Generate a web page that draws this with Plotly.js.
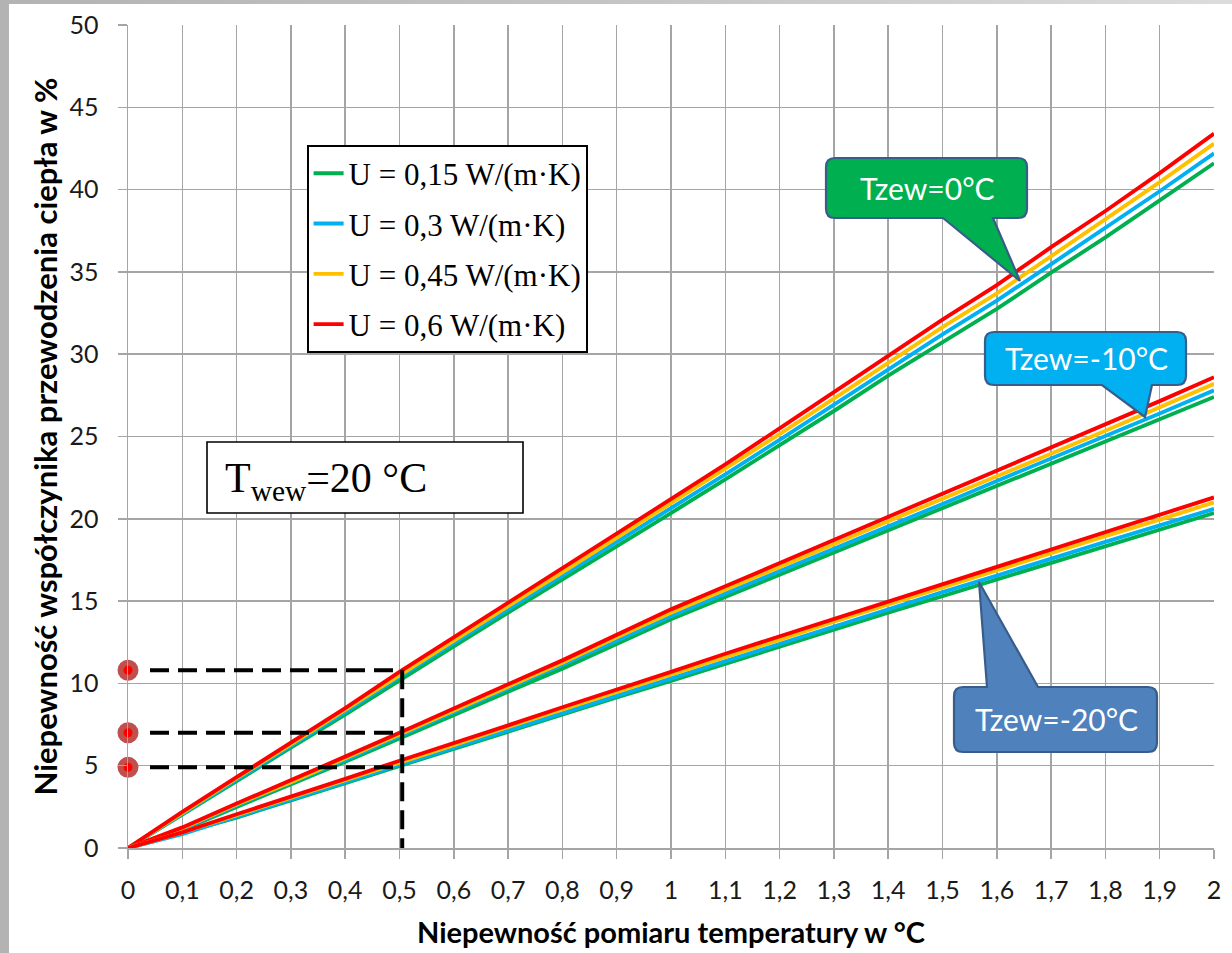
<!DOCTYPE html>
<html>
<head>
<meta charset="utf-8">
<script src="https://cdn.plot.ly/plotly-3.0.1.min.js"></script>
<style>
  html, body { margin: 0; padding: 0; width: 1232px; height: 953px; overflow: hidden;
    background: linear-gradient(90deg, #b3b3b3 0%, #c8c8c8 60%, #dcdcdc 100%); }
  #chart { position: absolute; left: 9px; top: 4px; width: 1223px; height: 949px; background: #ffffff; }
</style>
</head>
<body>
<div id="chart"></div>
<script>
// ---------------- DATA ----------------
const xVals = [0, 0.1, 0.2, 0.3, 0.4, 0.5, 0.6, 0.7, 0.8, 0.9, 1.0, 1.1, 1.2, 1.3, 1.4, 1.5, 1.6, 1.7, 1.8, 1.9, 2.0];

const uLabels = ['U = 0,15 W/(m·K)', 'U = 0,3 W/(m·K)', 'U = 0,45 W/(m·K)', 'U = 0,6 W/(m·K)'];
const uColors = ['#00b050', '#00b0f0', '#ffc000', '#ff0000'];

// Tzew = 0 °C
const t0_u015 = [0, 2.05, 4.05, 6.1, 8.1, 10.2, 12.25, 14.3, 16.3, 18.35, 20.35, 22.4, 24.45, 26.55, 28.7, 30.75, 32.75, 34.95, 37.1, 39.35, 41.6];
const t0_u030 = [0, 2.1, 4.15, 6.2, 8.25, 10.4, 12.45, 14.5, 16.55, 18.6, 20.6, 22.7, 24.8, 26.95, 29.1, 31.2, 33.25, 35.45, 37.65, 39.9, 42.2];
const t0_u045 = [0, 2.15, 4.25, 6.3, 8.4, 10.55, 12.6, 14.7, 16.75, 18.85, 20.9, 23.0, 25.15, 27.3, 29.5, 31.65, 33.7, 35.95, 38.15, 40.45, 42.8];
const t0_u060 = [0, 2.2, 4.3, 6.4, 8.5, 10.7, 12.8, 14.9, 17.0, 19.1, 21.2, 23.3, 25.5, 27.7, 29.9, 32.1, 34.2, 36.5, 38.7, 41.0, 43.4];

// Tzew = -10 °C
const t10_u015 = [0, 1.1, 2.5, 3.85, 5.25, 6.65, 8.1, 9.5, 10.9, 12.4, 13.9, 15.25, 16.6, 17.95, 19.3, 20.6, 21.95, 23.3, 24.65, 26.0, 27.4];
const t10_u030 = [0, 1.15, 2.6, 3.95, 5.35, 6.8, 8.25, 9.65, 11.1, 12.6, 14.1, 15.45, 16.8, 18.2, 19.55, 20.9, 22.3, 23.65, 25.0, 26.4, 27.8];
const t10_u045 = [0, 1.2, 2.65, 4.0, 5.45, 6.9, 8.4, 9.8, 11.25, 12.8, 14.3, 15.7, 17.05, 18.45, 19.85, 21.2, 22.6, 23.95, 25.35, 26.8, 28.2];
const t10_u060 = [0, 1.25, 2.7, 4.1, 5.55, 7.0, 8.5, 9.95, 11.4, 12.95, 14.5, 15.9, 17.3, 18.7, 20.1, 21.5, 22.9, 24.3, 25.7, 27.15, 28.6];

// Tzew = -20 °C
const t20_u015 = [0, 0.9, 1.85, 2.9, 3.95, 4.95, 6.0, 7.05, 8.1, 9.15, 10.15, 11.2, 12.2, 13.25, 14.3, 15.3, 16.3, 17.3, 18.35, 19.35, 20.35];
const t20_u030 = [0, 0.85, 1.9, 2.95, 4.0, 5.1, 6.1, 7.2, 8.25, 9.3, 10.35, 11.4, 12.45, 13.5, 14.55, 15.55, 16.55, 17.6, 18.6, 19.6, 20.6];
const t20_u045 = [0, 0.95, 2.0, 3.05, 4.1, 5.2, 6.25, 7.35, 8.4, 9.45, 10.55, 11.6, 12.65, 13.75, 14.8, 15.85, 16.85, 17.9, 18.95, 19.95, 21.0];
const t20_u060 = [0, 0.95, 2.05, 3.1, 4.2, 5.3, 6.35, 7.45, 8.55, 9.6, 10.7, 11.8, 12.85, 13.95, 15.0, 16.05, 17.1, 18.15, 19.2, 20.25, 21.3];

// reading example (dashed guides)
const markX = 0.505;
const markY = [10.8, 7.0, 4.9];

// ticks
const xTickVals = [0, 0.1, 0.2, 0.3, 0.4, 0.5, 0.6, 0.7, 0.8, 0.9, 1, 1.1, 1.2, 1.3, 1.4, 1.5, 1.6, 1.7, 1.8, 1.9, 2];
const xTickText = ['0', '0,1', '0,2', '0,3', '0,4', '0,5', '0,6', '0,7', '0,8', '0,9', '1', '1,1', '1,2', '1,3', '1,4', '1,5', '1,6', '1,7', '1,8', '1,9', '2'];
const yTickVals = [0, 5, 10, 15, 20, 25, 30, 35, 40, 45, 50];
const yTickText = ['0', '5', '10', '15', '20', '25', '30', '35', '40', '45', '50'];

const calloutTexts = ['Tzew=0°C', 'Tzew=-10°C', 'Tzew=-20°C'];
const noteText = 'T<sub>wew</sub>=20 °C';
const xTitle = 'Niepewność pomiaru temperatury w °C';
const yTitle = 'Niepewność współczynika przewodzenia ciepła w %';

// ---------------- TRACES ----------------
const families = [
  [t0_u015, t0_u030, t0_u045, t0_u060],
  [t10_u015, t10_u030, t10_u045, t10_u060],
  [t20_u015, t20_u030, t20_u045, t20_u060]
];

const traces = [];
families.forEach((fam, fi) => {
  fam.forEach((ys, ui) => {
    traces.push({
      type: 'scatter', mode: 'lines',
      x: xVals, y: ys,
      name: uLabels[ui],
      legendgroup: 'u' + ui,
      showlegend: fi === 0,
      line: { color: uColors[ui], width: 3.9 },
      hoverinfo: 'skip'
    });
  });
});

traces.push({
  type: 'scatter', mode: 'markers',
  x: markY.map(() => 0), y: markY,
  showlegend: false, cliponaxis: false, hoverinfo: 'skip',
  marker: { size: 15, color: '#ff0000', line: { color: '#c0504d', width: 6 } }
});

// ---------------- GEOMETRY HELPERS ----------------
const PL = 128, PR = 1214, PT = 25, PB = 848; // page pixel bounds of plot area
const X = px => (px - PL) / (PR - PL) * 2;
const Y = py => (PB - py) / (PB - PT) * 50;
const pt = (px, py) => X(px).toFixed(5) + ',' + Y(py).toFixed(4);

function calloutPath(x0, y0, x1, y1, r, edge, a, c, tx, ty) {
  let d = 'M' + pt(x0 + r, y0);
  if (edge === 'top') d += ' L' + pt(a, y0) + ' L' + pt(tx, ty) + ' L' + pt(c, y0);
  d += ' L' + pt(x1 - r, y0) + ' Q' + pt(x1, y0) + ' ' + pt(x1, y0 + r);
  d += ' L' + pt(x1, y1 - r) + ' Q' + pt(x1, y1) + ' ' + pt(x1 - r, y1);
  if (edge === 'bottom') d += ' L' + pt(c, y1) + ' L' + pt(tx, ty) + ' L' + pt(a, y1);
  d += ' L' + pt(x0 + r, y1) + ' Q' + pt(x0, y1) + ' ' + pt(x0, y1 - r);
  d += ' L' + pt(x0, y0 + r) + ' Q' + pt(x0, y0) + ' ' + pt(x0 + r, y0) + ' Z';
  return d;
}

const callouts = [
  { box: [826, 158, 1027, 218], edge: 'bottom', a: 943, c: 993, tip: [1020, 281], fill: '#00b050', tc: [927, 188] },
  { box: [985, 332, 1186, 385], edge: 'bottom', a: 1102, c: 1152, tip: [1145, 417], fill: '#00b0f0', tc: [1086, 358] },
  { box: [954, 687, 1157, 752], edge: 'top', a: 987, c: 1038, tip: [979, 582], fill: '#4f81bd', tc: [1056, 719] }
];

const shapes = [];
const annotations = [];

// dashed guide lines
markY.forEach(v => {
  shapes.push({ type: 'line', xref: 'x', yref: 'y', layer: 'above',
    x0: X(150), x1: markX, y0: v, y1: v,
    line: { color: '#000000', width: 4, dash: '19px,9px' } });
});
shapes.push({ type: 'line', xref: 'x', yref: 'y', layer: 'above',
  x0: markX, x1: markX, y0: Math.max(...markY), y1: 0,
  line: { color: '#000000', width: 4, dash: '19px,9px' } });

// note box
shapes.push({ type: 'rect', xref: 'x', yref: 'y', layer: 'above',
  x0: X(207), x1: X(523), y0: Y(442), y1: Y(513),
  fillcolor: '#ffffff', line: { color: '#000000', width: 1.6 } });
annotations.push({ xref: 'x', yref: 'y', x: X(223), y: Y(481), xanchor: 'left', yanchor: 'middle',
  showarrow: false, text: noteText,
  font: { family: 'Liberation Serif, Times New Roman, serif', size: 42, color: '#000000' } });

callouts.forEach((co, i) => {
  shapes.push({ type: 'path', xref: 'x', yref: 'y', layer: 'above',
    path: calloutPath(co.box[0], co.box[1], co.box[2], co.box[3], 9, co.edge, co.a, co.c, co.tip[0], co.tip[1]),
    fillcolor: co.fill, line: { color: '#385d8a', width: 2.2 } });
  annotations.push({ xref: 'x', yref: 'y', x: X(co.tc[0]), y: Y(co.tc[1]),
    xanchor: 'center', yanchor: 'middle', showarrow: false, text: calloutTexts[i],
    font: { family: 'Lato, sans-serif', size: 30, color: '#ffffff' } });
});

// ---------------- LAYOUT ----------------
const axisCommon = {
  showgrid: true, gridcolor: '#a5a5a5', gridwidth: 1.5,
  showline: true, linecolor: '#a5a5a5', linewidth: 1.5,
  ticks: 'outside', ticklen: 9, tickwidth: 1.5, tickcolor: '#a5a5a5',
  zeroline: false, tickmode: 'array', fixedrange: true,
  tickfont: { family: 'Lato, sans-serif', size: 25, color: '#1a1a1a' }
};

const layout = {
  width: 1223, height: 949,
  margin: { l: 119, r: 18, t: 21, b: 105 },
  paper_bgcolor: '#ffffff', plot_bgcolor: '#ffffff',
  showlegend: true,
  legend: {
    x: (307 - PL) / (PR - PL), y: 1 - (145 - PT) / (PB - PT),
    xanchor: 'left', yanchor: 'top',
    bgcolor: '#ffffff', bordercolor: '#000000', borderwidth: 1.6,
    tracegroupgap: 7, itemwidth: 30,
    font: { family: 'Liberation Serif, Times New Roman, serif', size: 31, color: '#000000' }
  },
  xaxis: Object.assign({}, axisCommon, {
    range: [0, 2], tickvals: xTickVals, ticktext: xTickText, ticklabelstandoff: 10,
    title: { text: xTitle, standoff: 20,
      font: { family: 'Lato, sans-serif', size: 29, weight: 'bold', color: '#000000' } }
  }),
  yaxis: Object.assign({}, axisCommon, {
    range: [0, 50], tickvals: yTickVals, ticktext: yTickText, ticklabelstandoff: 14,
    title: { text: yTitle, standoff: 2,
      font: { family: 'Lato, sans-serif', size: 31, weight: 'bold', color: '#000000' } }
  }),
  shapes: shapes,
  annotations: annotations
};

Plotly.newPlot('chart', traces, layout, { displayModeBar: false, staticPlot: true });
</script>
</body>
</html>
